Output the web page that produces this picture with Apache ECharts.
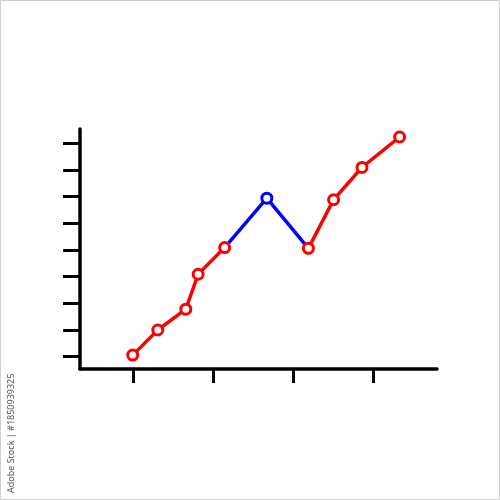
<!DOCTYPE html>
<html>
<head>
<meta charset="utf-8">
<script src="https://cdn.jsdelivr.net/npm/echarts@6/dist/echarts.min.js"></script>
<style>html,body{margin:0;padding:0;background:#fff}#c{width:500px;height:500px}</style>
</head>
<body>
<div id="c"></div>
<script>
var xValues = [0.996, 1.309, 1.659, 1.8125, 2.144, 2.671, 3.19, 3.504, 3.859, 4.329];
var yValues = [0.06, 1.0, 1.78, 3.09, 4.09, 5.94, 4.06, 5.88, 7.09, 8.23];
var xTicks = [1, 2, 3, 4];
var yTicks = [0, 1, 2, 3, 4, 5, 6, 7, 8];
var blueStart = 4, blueEnd = 6;
var watermarkText = 'Adobe Stock | #1850939325';

function pts(a, b) {
  var out = [];
  for (var i = a; i <= b; i++) out.push([xValues[i], yValues[i]]);
  return out;
}
var n = xValues.length;
var RED = '#ff0000', BLUE = '#0000ff';
function lineSeries(data, color, z, symFn) {
  return {
    type: 'line', data: data, z: z,
    symbol: 'circle',
    symbolSize: symFn || 10,
    showAllSymbol: true,
    lineStyle: { color: color, width: 3.5 },
    itemStyle: { color: '#fff', borderColor: color, borderWidth: 3 },
    emphasis: { disabled: true },
    animation: false
  };
}
var chart = echarts.init(document.getElementById('c'));
chart.setOption({
  backgroundColor: '#fff',
  animation: false,
  grid: { left: 80, right: 63, top: 129, bottom: 131 },
  xAxis: {
    type: 'value', min: 0.3375, max: 4.796,
    axisLine: { show: true, onZero: false, lineStyle: { color: '#000', width: 3.5 } },
    axisTick: { show: true, customValues: xTicks, length: 14, lineStyle: { color: '#000', width: 3 } },
    axisLabel: { show: false },
    splitLine: { show: false }
  },
  yAxis: {
    type: 'value', min: -0.46, max: 8.53,
    axisLine: { show: true, onZero: false, lineStyle: { color: '#000', width: 3.5 } },
    axisTick: { show: true, customValues: yTicks, length: 17, lineStyle: { color: '#000', width: 3 } },
    axisLabel: { show: false },
    splitLine: { show: false }
  },
  series: [
    lineSeries(pts(blueStart, blueEnd), BLUE, 2, function (v, p) {
      return (p.dataIndex === 0 || p.dataIndex === blueEnd - blueStart) ? 0 : 10;
    }),
    lineSeries(pts(0, blueStart), RED, 3),
    lineSeries(pts(blueEnd, n - 1), RED, 3)
  ],
  graphic: [
    { type: 'rect', shape: { x: 0.5, y: 0.5, width: 499, height: 499 },
      style: { fill: null, stroke: '#cfcfcf', lineWidth: 1 }, silent: true },
    { type: 'text', x: 16, y: 493, rotation: Math.PI / 2,
      style: { text: watermarkText, fill: '#555', font: '9px "Noto Sans", sans-serif', textAlign: 'left', textVerticalAlign: 'bottom' } }
  ]
});
</script>
</body>
</html>
